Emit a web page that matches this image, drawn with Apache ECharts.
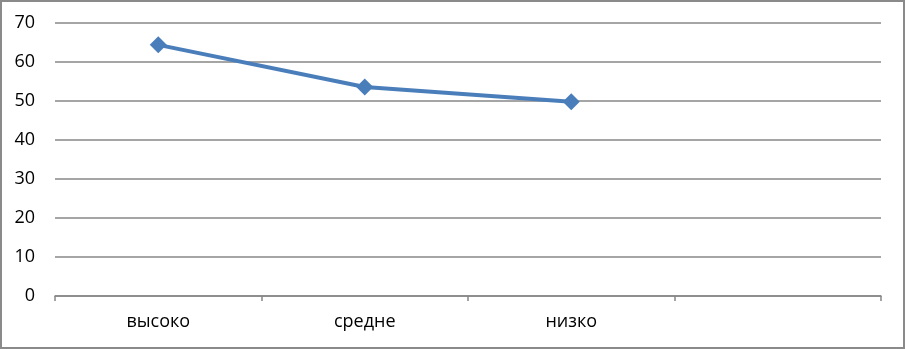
<!DOCTYPE html>
<html>
<head>
<meta charset="utf-8">
<script src="https://cdn.jsdelivr.net/npm/echarts@6/dist/echarts.min.js"></script>
<style>
html,body{margin:0;padding:0;background:#fff;}
#chart{width:905px;height:349px;}
</style>
</head>
<body>
<div id="chart"></div>
<script>
var categories = ['высоко', 'средне', 'низко', ''];
var values = [64.4, 53.6, 49.8, null];
var yTicks = { min: 0, max: 70, interval: 10 };

var chart = echarts.init(document.getElementById('chart'), null, { renderer: 'canvas' });
chart.setOption({
  animation: false,
  backgroundColor: '#ffffff',
  graphic: [{
    type: 'rect',
    shape: { x: 1, y: 1, width: 903, height: 347 },
    style: { fill: 'none', stroke: '#8a8a8a', lineWidth: 2 },
    silent: true
  }],
  grid: { left: 55, right: 24, top: 23, bottom: 53, containLabel: false },
  xAxis: {
    type: 'category',
    data: categories,
    boundaryGap: true,
    axisLine: { show: true, lineStyle: { color: '#878787', width: 1.5 } },
    axisTick: { show: true, length: 5, alignWithLabel: false, lineStyle: { color: '#878787', width: 1.5 } },
    axisLabel: { color: '#000', fontFamily: 'Open Sans', fontSize: 18, margin: 17 },
    splitLine: { show: false }
  },
  yAxis: {
    type: 'value',
    min: yTicks.min, max: yTicks.max, interval: yTicks.interval,
    axisLine: { show: false },
    axisTick: { show: false },
    axisLabel: { color: '#000', fontFamily: 'Open Sans', fontSize: 18, margin: 20 },
    splitLine: { show: true, lineStyle: { color: '#878787', width: 1.5 } }
  },
  series: [{
    type: 'line',
    data: values,
    symbol: 'diamond',
    symbolSize: 17,
    connectNulls: false,
    lineStyle: { color: '#4a7ebb', width: 4 },
    itemStyle: { color: '#4a7ebb' }
  }]
});
</script>
</body>
</html>
